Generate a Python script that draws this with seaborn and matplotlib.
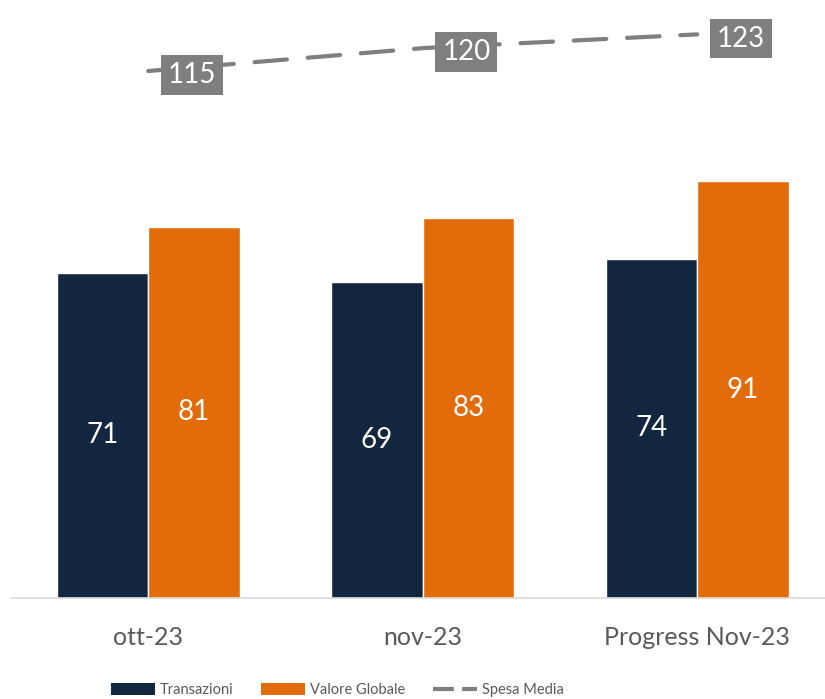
import matplotlib
matplotlib.use("Agg")
import matplotlib.pyplot as plt
import seaborn as sns
import pandas as pd
from matplotlib.patches import Patch
from matplotlib.lines import Line2D

categories = ["ott-23", "nov-23", "Progress Nov-23"]
transazioni = [71, 69, 74]
valore_globale = [81, 83, 91]
spesa_media = [115, 120, 123]
series_names = ["Transazioni", "Valore Globale"]

NAVY = "#12263F"
ORANGE = "#E36C0A"
GRAY = "#7F7F7F"

sns.set_theme(style="white")
plt.rcParams["font.family"] = ["Lato", "DejaVu Sans"]

df = pd.DataFrame({
    "cat": categories * 2,
    "serie": [series_names[0]] * 3 + [series_names[1]] * 3,
    "val": transazioni + valore_globale,
})

fig = plt.figure(figsize=(8.25, 6.99), dpi=100)
ax = fig.add_axes([11 / 825, 101 / 699, 823.5 / 825, 598 / 699])

sns.barplot(data=df, x="cat", y="val", hue="serie", palette=[NAVY, ORANGE],
            width=0.667, saturation=1, ax=ax, legend=False)

for cont in ax.containers:
    ax.bar_label(cont, label_type="center", color="white", fontsize=20)

xs = list(range(len(categories)))
sns.lineplot(x=xs, y=spesa_media, ax=ax, color=GRAY, linewidth=3,
             dashes=False, legend=False)
ln = ax.lines[-1]
ln.set_dashes([7.8, 5])
ln.set_dash_capstyle("round")
for x, v in zip(xs, spesa_media):
    ax.annotate(str(v), (x, v), xytext=(14, -3), textcoords="offset points",
                ha="left", va="center", color="white", fontsize=20,
                bbox=dict(boxstyle="square,pad=0.25", fc=GRAY, ec="none"))

ax.set_xlim(-0.5, 2.5)
ax.set_ylim(0, 130.5)
ax.set_yticks([])
ax.set_xlabel("")
ax.set_ylabel("")
ax.tick_params(axis="x", length=0, labelsize=18, labelcolor="#595959", pad=20)
for s in ["top", "right", "left"]:
    ax.spines[s].set_visible(False)
ax.spines["bottom"].set_color("#D9D9D9")
ax.spines["bottom"].set_linewidth(1.2)

handles = [
    Patch(facecolor=NAVY, edgecolor="none"),
    Patch(facecolor=ORANGE, edgecolor="none"),
    Line2D([0], [0], color=GRAY, linewidth=3, dashes=[5, 2]),
]
fs = 10.5
fig.legend(handles, ["Transazioni", "Valore Globale", "Spesa Media"],
           loc="center left", bbox_to_anchor=((111 - 0.4 * fs * 1.39) / 825, 1 - 690 / 699),
           borderaxespad=0, ncol=3, frameon=False, fontsize=fs, labelcolor="#595959",
           handlelength=3.0, handleheight=0.95, columnspacing=1.9, handletextpad=0.35)

fig.savefig("out.png", dpi=100)
